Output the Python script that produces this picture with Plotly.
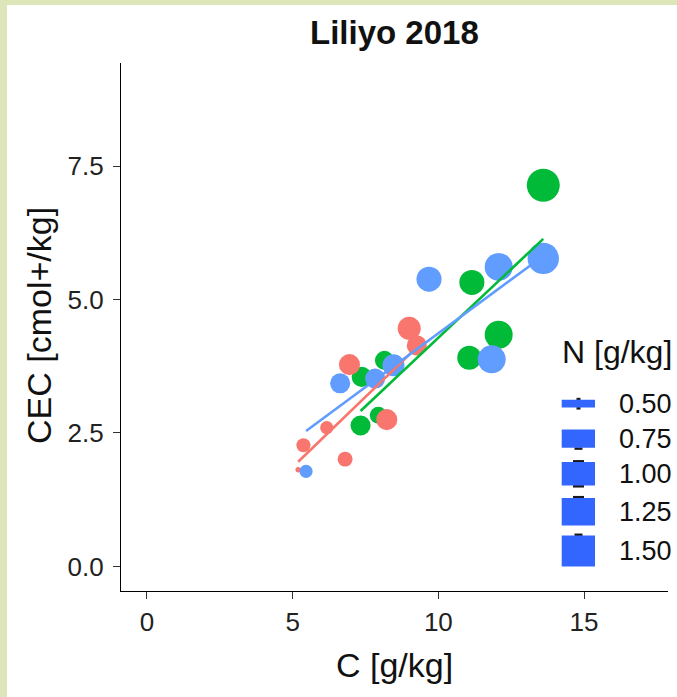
import numpy as np
import plotly.graph_objects as go

# ---------------- data ----------------
red_C = [9.00, 9.26, 6.95, 8.23, 6.17, 5.37, 6.80, 5.19]
red_CEC = [4.46, 4.14, 3.78, 2.75, 2.60, 2.27, 2.01, 1.81]
red_N = [0.91, 0.78, 0.82, 0.82, 0.57, 0.59, 0.61, 0.49]

green_C = [13.60, 11.15, 12.07, 11.06, 8.15, 7.37, 7.94, 7.33]
green_CEC = [7.14, 5.32, 4.34, 3.91, 3.86, 3.55, 2.83, 2.64]
green_N = [1.52, 1.01, 1.18, 0.96, 0.74, 0.78, 0.67, 0.78]

blue_C = [13.60, 12.07, 9.68, 11.83, 8.46, 7.83, 6.63, 5.46]
blue_CEC = [5.77, 5.61, 5.38, 3.88, 3.77, 3.52, 3.43, 1.78]
blue_N = [1.40, 1.18, 1.01, 1.18, 0.86, 0.78, 0.78, 0.57]

legend_breaks = [0.50, 0.75, 1.00, 1.25, 1.50]
legend_labels = ["0.50", "0.75", "1.00", "1.25", "1.50"]

x_ticks = [0, 5, 10, 15]
x_ticklabels = ["0", "5", "10", "15"]
y_ticks = [0, 2.5, 5, 7.5]
y_ticklabels = ["0.0", "2.5", "5.0", "7.5"]

title = "Liliyo 2018"
x_title = "C [g/kg]"
y_title = "CEC [cmol+/kg]"
legend_title = "N [g/kg]"

# ---------------- styling ----------------
RED = "#F8766D"
GREEN = "#00BA38"
BLUE = "#619CFF"
KEYBLUE = "#3366FF"
FRAME = "#dce6b9"
FONT = "Liberation Sans, Arial, sans-serif"

W, H = 677, 697
L, R, T, B = 121, 668, 63, 591
PW, PH = R - L, B - T

N_MIN, N_MAX = 0.49, 1.52


def size_of(n, base=5.5):
    t = (np.asarray(n, dtype=float) - N_MIN) / (N_MAX - N_MIN)
    t = np.clip(t, 0, 1)
    return base * (1 + 5 * np.sqrt(t))


def px2x(px):
    return (px - L) / PW


def py2y(py):
    return (B - py) / PH


fig = go.Figure()

groups = [
    (green_C, green_CEC, green_N, GREEN),
    (red_C, red_CEC, red_N, RED),
    (blue_C, blue_CEC, blue_N, BLUE),
]

for xs, ys, ns, col in groups:
    fig.add_trace(go.Scatter(
        x=xs, y=ys, mode="markers",
        marker=dict(color=col, size=size_of(ns), line=dict(width=0), opacity=1),
        showlegend=False, hoverinfo="skip"))

for xs, ys, ns, col in groups:
    xa = np.array(xs)
    slope, icpt = np.polyfit(xa, np.array(ys), 1)
    xl = np.array([xa.min(), xa.max()])
    fig.add_trace(go.Scatter(
        x=xl, y=slope * xl + icpt, mode="lines",
        line=dict(color=col, width=2.6),
        showlegend=False, hoverinfo="skip"))

shapes = []
# frame bands (left and top)
shapes.append(dict(type="rect", xref="paper", yref="paper",
                   x0=px2x(0), x1=px2x(7), y0=py2y(H), y1=py2y(0),
                   fillcolor=FRAME, line=dict(width=0), layer="below"))
shapes.append(dict(type="rect", xref="paper", yref="paper",
                   x0=px2x(0), x1=px2x(W), y0=py2y(5), y1=py2y(0),
                   fillcolor=FRAME, line=dict(width=0), layer="below"))

annotations = []
# legend (drawn manually)
key_centers = [403.7, 438.7, 473.8, 511.7, 551.0]
key_x0, key_x1 = 561.7, 595.0
key_mid = 578.5
key_h = size_of(legend_breaks, base=5.2)
# visible dark slivers of the point key behind each box: (top?, bottom?, half-width)
slivers = [(True, True, 2), (False, True, 4), (True, True, 5.5), (True, False, 5.5), (True, False, 4)]
for cy, kh, sl, lab in zip(key_centers, key_h, slivers, legend_labels):
    kh = min(kh, 32)
    top, bot, hw = sl
    if top:
        shapes.append(dict(type="rect", xref="paper", yref="paper",
                           x0=px2x(key_mid - hw), x1=px2x(key_mid + hw),
                           y0=py2y(cy - kh / 2 + 0.5), y1=py2y(cy - kh / 2 - 2),
                           fillcolor="#1a1a1a", line=dict(width=0)))
    if bot:
        shapes.append(dict(type="rect", xref="paper", yref="paper",
                           x0=px2x(key_mid - hw), x1=px2x(key_mid + hw),
                           y0=py2y(cy + kh / 2 + 2), y1=py2y(cy + kh / 2 - 0.5),
                           fillcolor="#1a1a1a", line=dict(width=0)))
    shapes.append(dict(type="rect", xref="paper", yref="paper",
                       x0=px2x(key_x0), x1=px2x(key_x1),
                       y0=py2y(cy + kh / 2), y1=py2y(cy - kh / 2),
                       fillcolor=KEYBLUE, line=dict(width=0)))
    annotations.append(dict(text=lab, xref="paper", yref="paper",
                            x=px2x(617), y=py2y(cy), xanchor="left", yanchor="middle",
                            showarrow=False, font=dict(family=FONT, size=27, color="#111111")))

annotations.append(dict(text=legend_title, xref="paper", yref="paper",
                        x=px2x(560), y=py2y(352), xanchor="left", yanchor="middle",
                        showarrow=False, font=dict(family=FONT, size=32, color="#111111")))

annotations.append(dict(text="<b>" + title + "</b>", xref="paper", yref="paper",
                        x=0.5, y=py2y(33), xanchor="center", yanchor="middle",
                        showarrow=False, font=dict(family=FONT, size=33, color="#111111")))
annotations.append(dict(text=x_title, xref="paper", yref="paper",
                        x=0.5, y=py2y(665), xanchor="center", yanchor="middle",
                        showarrow=False, font=dict(family=FONT, size=34, color="#111111")))
annotations.append(dict(text=y_title, xref="paper", yref="paper",
                        x=px2x(39), y=py2y(326), xanchor="center", yanchor="middle",
                        textangle=-90,
                        showarrow=False, font=dict(family=FONT, size=34, color="#111111")))

fig.update_layout(
    width=W, height=H,
    margin=dict(l=L, r=W - R, t=T, b=H - B, pad=0),
    paper_bgcolor="white", plot_bgcolor="white",
    showlegend=False,
    shapes=shapes, annotations=annotations,
    font=dict(family=FONT, color="#222222"),
    xaxis=dict(range=[-0.89, 17.88], tickvals=x_ticks, ticktext=x_ticklabels,
               showgrid=False, zeroline=False, showline=True, linecolor="black",
               linewidth=1.3, ticks="outside", ticklen=7, tickwidth=1.3, tickcolor="#333333",
               tickfont=dict(family=FONT, size=26, color="#222222"),
               ticklabelstandoff=1),
    yaxis=dict(range=[-0.46, 9.43], tickvals=y_ticks, ticktext=y_ticklabels,
               showgrid=False, zeroline=False, showline=True, linecolor="black",
               linewidth=1.3, ticks="outside", ticklen=7, tickwidth=1.3, tickcolor="#333333",
               tickfont=dict(family=FONT, size=26, color="#222222"),
               ticklabelstandoff=4),
)

fig.write_html("out.html", config={"displayModeBar": False})
